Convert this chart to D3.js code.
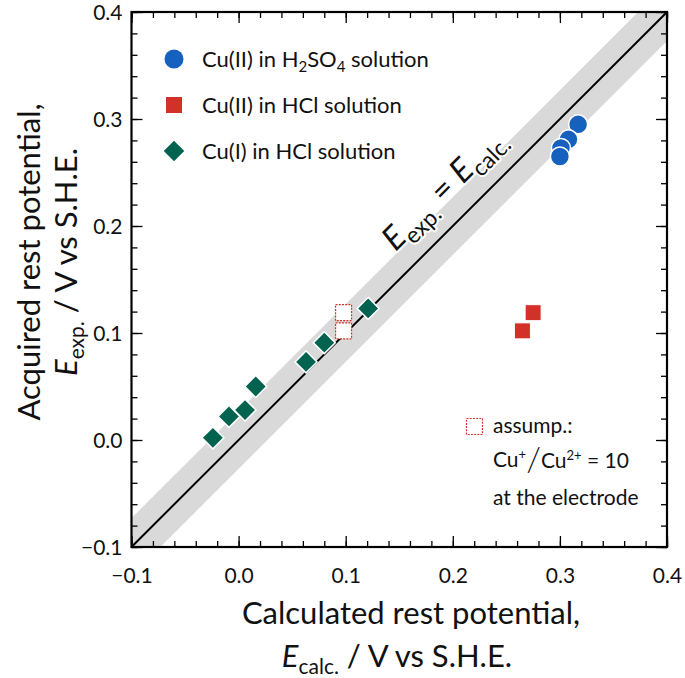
<!DOCTYPE html>
<html><head><meta charset="utf-8">
<script src="https://cdn.jsdelivr.net/npm/d3@7"></script>
<style>
html,body{margin:0;padding:0;background:#fff;}
text{font-family:Lato,"Open Sans",sans-serif;fill:#111;}
</style></head>
<body>
<svg id="chart" width="685" height="678"></svg>
<script>
// ---- data ----
const h2so4X = [0.317, 0.308, 0.301, 0.300];
const h2so4Y = [0.295, 0.281, 0.273, 0.265];
const hclIIX = [0.275, 0.265];
const hclIIY = [0.119, 0.102];
const assumpX = [0.098, 0.098];
const assumpY = [0.119, 0.102];
const hclIX = [-0.024, -0.009, 0.006, 0.016, 0.063, 0.080, 0.121];
const hclIY = [0.002, 0.022, 0.028, 0.050, 0.073, 0.091, 0.123];
const majorTicks = [-0.1, 0.0, 0.1, 0.2, 0.3, 0.4];
const minorTicks = d3.range(-0.1, 0.4001, 0.02).map(v => +v.toFixed(2));
const legendLabels = ["Cu(II) in H2SO4 solution", "Cu(II) in HCl solution", "Cu(I) in HCl solution"];
const bandHalf = 0.027;

const colBlue = "#1561bd", colRed = "#d2312a", colGreen = "#00634f";

const L = 131.5, R = 667, T = 12, B = 547;
const svg = d3.select("#chart");
const x = d3.scaleLinear().domain([-0.1, 0.4]).range([L, R]);
const y = d3.scaleLinear().domain([-0.1, 0.4]).range([B, T]);

svg.append("clipPath").attr("id", "clip").append("rect")
  .attr("x", L).attr("y", T).attr("width", R - L).attr("height", B - T);
const plot = svg.append("g").attr("clip-path", "url(#clip)");

// band
const bandPts = [[-0.2, -0.2 + bandHalf], [0.5, 0.5 + bandHalf], [0.5, 0.5 - bandHalf], [-0.2, -0.2 - bandHalf]];
plot.append("path").attr("d", d3.line().x(d => x(d[0])).y(d => y(d[1]))(bandPts) + "Z")
  .attr("fill", "#d9d9d9");
plot.append("line").attr("x1", x(-0.1)).attr("y1", y(-0.1)).attr("x2", x(0.4)).attr("y2", y(0.4))
  .attr("stroke", "#000").attr("stroke-width", 2);

// diagonal label
const mid = 0.213;
const lab = svg.append("text").attr("transform", `translate(${x(mid)},${y(mid)}) rotate(-45)`)
  .attr("y", -22).attr("text-anchor", "middle")
  .attr("stroke", "#fff").attr("stroke-width", 4).attr("paint-order", "stroke").attr("stroke-linejoin", "round")
  .style("font-size", "33px");
lab.append("tspan").text("E").style("font-style", "italic");
lab.append("tspan").text("exp.").attr("dy", 8).style("font-size", "23px");
lab.append("tspan").text(" = ").attr("dy", -8);
lab.append("tspan").text("E").style("font-style", "italic");
lab.append("tspan").text("calc.").attr("dy", 8).style("font-size", "23px");

// axes
function drawAxis(axisGen, tx, ty, vals, size, labels) {
  const g = svg.append("g").attr("transform", `translate(${tx},${ty})`)
    .call(axisGen.tickValues(vals).tickSize(size).tickSizeOuter(0).tickPadding(9)
      .tickFormat(labels ? d3.format(".1f") : ""));
  g.select(".domain").remove();
  g.selectAll(".tick line").attr("stroke", "#000").attr("stroke-width", 1.3);
  g.selectAll("text").style("font-size", "21px").style("font-family", "Lato").attr("fill", "#111");
  return g;
}
drawAxis(d3.axisBottom(x), 0, B, minorTicks, -6, false);
drawAxis(d3.axisBottom(x), 0, B, majorTicks, -11, true).selectAll("text").attr("dy", "0").attr("y", 36);
drawAxis(d3.axisTop(x), 0, T, minorTicks, -6, false);
drawAxis(d3.axisTop(x), 0, T, majorTicks, -11, false);
drawAxis(d3.axisLeft(y), L, 0, minorTicks, -6, false);
drawAxis(d3.axisLeft(y), L, 0, majorTicks, -11, true).selectAll("text").attr("x", -9).attr("dy", "0.34em");
drawAxis(d3.axisRight(y), R, 0, minorTicks, -6, false);
drawAxis(d3.axisRight(y), R, 0, majorTicks, -11, false);

svg.append("rect").attr("x", L).attr("y", T).attr("width", R - L).attr("height", B - T)
  .attr("fill", "none").attr("stroke", "#000").attr("stroke-width", 2.2);

// markers
const sq = 16, dia = 15.5;
svg.append("g").selectAll("rect").data(assumpX.map((v, i) => [v, assumpY[i]])).join("rect")
  .attr("x", d => x(d[0]) - sq / 2).attr("y", d => y(d[1]) - sq / 2).attr("width", sq).attr("height", sq)
  .attr("fill", "#fff").attr("stroke", colRed).attr("stroke-width", 1.2).attr("stroke-dasharray", "2,1.2");
svg.append("g").selectAll("path").data(hclIX.map((v, i) => [v, hclIY[i]])).join("path")
  .attr("d", d3.symbol(d3.symbolSquare, dia * dia)())
  .attr("transform", d => `translate(${x(d[0])},${y(d[1])}) rotate(45)`)
  .attr("fill", colGreen).attr("stroke", "#fff").attr("stroke-width", 1.5);
svg.append("g").selectAll("rect").data(hclIIX.map((v, i) => [v, hclIIY[i]])).join("rect")
  .attr("x", d => x(d[0]) - sq / 2).attr("y", d => y(d[1]) - sq / 2).attr("width", sq).attr("height", sq)
  .attr("fill", colRed).attr("stroke", "#fff").attr("stroke-width", 1);
svg.append("g").selectAll("circle").data(h2so4X.map((v, i) => [v, h2so4Y[i]])).join("circle")
  .attr("cx", d => x(d[0])).attr("cy", d => y(d[1])).attr("r", 9.5)
  .attr("fill", colBlue).attr("stroke", "#fff").attr("stroke-width", 1.5);

// legend
const legX = 174, legY = [59, 105, 151], legTX = 202, legFS = "22px";
svg.append("circle").attr("cx", legX).attr("cy", legY[0]).attr("r", 9.5).attr("fill", colBlue);
svg.append("rect").attr("x", legX - 8).attr("y", legY[1] - 8).attr("width", 16).attr("height", 16).attr("fill", colRed);
svg.append("path").attr("d", d3.symbol(d3.symbolSquare, 14.5 * 14.5)())
  .attr("transform", `translate(${legX},${legY[2]}) rotate(45)`).attr("fill", colGreen);
const lt0 = svg.append("text").attr("x", legTX).attr("y", legY[0] + 8).style("font-size", legFS);
lt0.append("tspan").text("Cu(II) in H");
lt0.append("tspan").text("2").attr("dy", 5).style("font-size", "15px");
lt0.append("tspan").text("SO").attr("dy", -5);
lt0.append("tspan").text("4").attr("dy", 5).style("font-size", "15px");
lt0.append("tspan").text(" solution").attr("dy", -5);
svg.append("text").attr("x", legTX).attr("y", legY[1] + 8).style("font-size", legFS).text(legendLabels[1]);
svg.append("text").attr("x", legTX).attr("y", legY[2] + 8).style("font-size", legFS).text(legendLabels[2]);

// annotation
const annFS = "21px";
svg.append("rect").attr("x", 466.5).attr("y", 418.5).attr("width", 16).attr("height", 16)
  .attr("fill", "#fff").attr("stroke", colRed).attr("stroke-width", 1.2).attr("stroke-dasharray", "2,1.2");
svg.append("text").attr("x", 493).attr("y", 433).style("font-size", annFS).text("assump.:");
const a2 = svg.append("text").attr("x", 493).attr("y", 467).style("font-size", annFS);
a2.append("tspan").text("Cu");
a2.append("tspan").text("+").attr("dy", -8).style("font-size", "13px");
a2.append("tspan").text("/").attr("dy", 12).style("font-size", "34px").style("font-weight", "300");
a2.append("tspan").text("Cu").attr("dy", -3);
a2.append("tspan").text("2+").attr("dy", -8).style("font-size", "13px");
a2.append("tspan").text(" = 10").attr("dy", 8);
svg.append("text").attr("x", 493).attr("y", 505).style("font-size", annFS).text("at the electrode");

// axis titles
const tFS = "31px", tSub = "21px";
svg.append("text").attr("x", 411).attr("y", 624).attr("text-anchor", "middle").style("font-size", tFS)
  .text("Calculated rest potential,");
const xt2 = svg.append("text").attr("x", 397).attr("y", 667).attr("text-anchor", "middle").style("font-size", tFS);
xt2.append("tspan").text("E").style("font-style", "italic");
xt2.append("tspan").text("calc.").attr("dy", 7).style("font-size", tSub);
xt2.append("tspan").text(" / V vs S.H.E.").attr("dy", -7);

const yt = svg.append("g").attr("transform", `translate(0,262) rotate(-90)`);
yt.append("text").attr("x", 0).attr("y", 40).attr("text-anchor", "middle").style("font-size", tFS)
  .text("Acquired rest potential,");
const yt2 = yt.append("text").attr("x", 0).attr("y", 77).attr("text-anchor", "middle").style("font-size", tFS);
yt2.append("tspan").text("E").style("font-style", "italic");
yt2.append("tspan").text("exp.").attr("dy", 7).style("font-size", tSub);
yt2.append("tspan").text(" / V vs S.H.E.").attr("dy", -7);
</script>
</body></html>
